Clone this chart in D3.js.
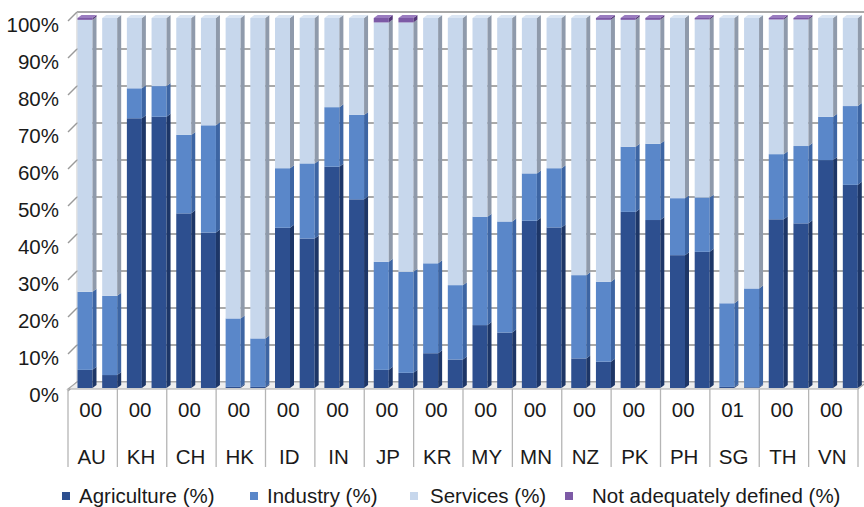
<!DOCTYPE html>
<html>
<head>
<meta charset="utf-8">
<script src="https://cdn.jsdelivr.net/npm/d3@7"></script>
<style>
  body { margin: 0; background: #fff; }
  text { font-family: "Liberation Sans", Arial, Helvetica, sans-serif; fill: #1a1a1a; }
</style>
</head>
<body>
<div id="chart"></div>
<script>
const width = 864;
const height = 507;

// categories (two bars per country)
const countries = ["AU", "KH", "CH", "HK", "ID", "IN", "JP", "KR", "MY", "MN", "NZ", "PK", "PH", "SG", "TH", "VN"];
const years = ["00", "00", "00", "00", "00", "00", "00", "00", "00", "00", "00", "00", "00", "01", "00", "00"];

// series values, one per bar (AU1, AU2, KH1, KH2, ...)
const agriculture = [4.9, 3.5, 72.9, 73.3, 47.2, 42.0, 0.3, 0.3, 43.3, 40.4, 59.8, 51.0, 4.9, 4.1, 9.4, 7.7,
  17.0, 15.0, 45.2, 43.4, 8.0, 7.1, 47.6, 45.4, 35.9, 36.8, 0.3, 0.2, 45.6, 44.5, 61.6, 54.9];
const industry = [21.1, 21.4, 8.1, 8.3, 21.2, 29.0, 18.5, 13.1, 16.1, 20.3, 16.1, 22.8, 29.2, 27.3, 24.3, 20.1,
  29.3, 30.0, 12.8, 16.0, 22.5, 21.6, 17.6, 20.6, 15.4, 14.7, 22.6, 26.7, 17.6, 20.9, 11.7, 21.3];
const services = [73.5, 75.1, 19.0, 18.4, 31.6, 29.0, 81.2, 86.6, 40.6, 39.3, 24.1, 26.2, 64.7, 67.4, 66.3, 72.2,
  53.7, 55.0, 42.0, 40.6, 69.5, 70.8, 34.3, 33.5, 48.7, 48.1, 77.1, 73.1, 36.4, 34.2, 26.7, 23.8];
const notDefined = [0.5, 0, 0, 0, 0, 0, 0, 0, 0, 0, 0, 0, 1.2, 1.2, 0, 0,
  0, 0, 0, 0, 0, 0.5, 0.5, 0.5, 0, 0.4, 0, 0, 0.4, 0.4, 0, 0];

const seriesNames = ["Agriculture (%)", "Industry (%)", "Services (%)", "Not adequately defined (%)"];
const yTicks = [0, 10, 20, 30, 40, 50, 60, 70, 80, 90, 100];

const keys = ["agri", "ind", "serv", "nad"];
const front = { agri: "#2d4f8f", ind: "#5a87c9", serv: "#c7d7ec", nad: "#7d5aa6" };
const side = { agri: "#1d3667", ind: "#3d65a3", serv: "#8f9aab", nad: "#55387a" };
const topc = { agri: "#3a5fa0", ind: "#7aa0d8", serv: "#dbe6f4", nad: "#9a7cc0" };

const rows = agriculture.map((a, i) => ({
  i, agri: a, ind: industry[i], serv: services[i], nad: notDefined[i]
}));

const svg = d3.select("#chart").append("svg")
  .attr("width", width)
  .attr("height", height);

// scales
const left = 68, right = 858;
const y = d3.scaleLinear().domain([0, 100]).range([388, 18]);
const xBar = d3.scaleBand().domain(d3.range(rows.length)).range([left, right]);
const xGroup = d3.scaleBand().domain(countries).range([left, right]);

const dx = 9, dy = -6; // depth of the back wall
const bw = 15, bd = 4;  // bar width and bar depth
const fs = "20.5px";

// back wall grid
svg.append("g")
  .selectAll("line")
  .data(yTicks)
  .join("line")
  .attr("x1", left + dx).attr("x2", width)
  .attr("y1", d => y(d) + dy).attr("y2", d => y(d) + dy)
  .attr("stroke", "#8c8c8c")
  .attr("stroke-width", 1.4);

// left wall edge
svg.append("line")
  .attr("x1", left + dx).attr("x2", left + dx)
  .attr("y1", y(100) + dy).attr("y2", y(0) + dy)
  .attr("stroke", "#c8c8c8");

// diagonal ticks + labels
const yAxis = svg.append("g");
yAxis.selectAll("line")
  .data(yTicks)
  .join("line")
  .attr("x1", left).attr("y1", d => y(d) + 3)
  .attr("x2", left + dx).attr("y2", d => y(d) + dy)
  .attr("stroke", "#9a9a9a")
  .attr("stroke-width", 1.4);
yAxis.selectAll("text")
  .data(yTicks)
  .join("text")
  .attr("x", 59)
  .attr("y", d => y(d) + 7)
  .attr("dy", "0.35em")
  .attr("text-anchor", "end")
  .style("font-size", fs)
  .text(d => d + "%");

// floor
svg.append("path")
  .attr("d", `M${left},${y(0) + 1}L${left + dx},${y(0) + dy}L${right + dx},${y(0) + dy}L${right},${y(0) + 1}Z`)
  .attr("fill", "#eeeeee")
  .attr("stroke", "#a8a8a8")
  .attr("stroke-width", 1.2);

// stacked bars with side and top faces
const stacked = d3.stack().keys(keys)(rows);
const segs = [];
stacked.forEach(s => s.forEach(d => {
  if (d[1] - d[0] > 0) segs.push({ key: s.key, i: d.data.i, y0: d[0], y1: d[1] });
}));

const bars = svg.append("g");
segs.forEach(d => {
  const x0 = xBar(d.i) + 9.5;
  const yt = y(d.y1), yb = y(d.y0);
  const g = bars.append("g");
  g.append("rect")
    .attr("x", x0).attr("y", yt)
    .attr("width", bw).attr("height", Math.max(0.6, yb - yt))
    .attr("fill", front[d.key]);
  g.append("path")
    .attr("d", `M${x0 + bw},${yt}L${x0 + bw + bd},${yt - 3}L${x0 + bw + bd},${yb - 3}L${x0 + bw},${yb}Z`)
    .attr("fill", side[d.key]);
});
// top caps
rows.forEach(r => {
  const last = keys.filter(k => r[k] > 0).pop();
  const x0 = xBar(r.i) + 9.5;
  const yt = y(100);
  bars.append("path")
    .attr("d", `M${x0},${yt}L${x0 + bd},${yt - 3}L${x0 + bw + bd},${yt - 3}L${x0 + bw},${yt}Z`)
    .attr("fill", topc[last]);
});

// category axis (two levels)
const cat = svg.append("g");
cat.selectAll("line")
  .data(d3.range(countries.length + 1))
  .join("line")
  .attr("x1", d => left + d * xGroup.bandwidth())
  .attr("x2", d => left + d * xGroup.bandwidth())
  .attr("y1", y(0) + 1).attr("y2", 467)
  .attr("stroke", "#b5b5b5")
  .attr("stroke-width", 1.3);
cat.selectAll("text.yr")
  .data(countries)
  .join("text")
  .attr("class", "yr")
  .attr("x", d => xGroup(d) + xGroup.bandwidth() / 2 - 2)
  .attr("y", 410)
  .attr("dy", "0.35em")
  .attr("text-anchor", "middle")
  .style("font-size", fs)
  .text((d, i) => years[i]);
cat.selectAll("text.ct")
  .data(countries)
  .join("text")
  .attr("class", "ct")
  .attr("x", d => xGroup(d) + xGroup.bandwidth() / 2 - 1)
  .attr("y", 457)
  .attr("dy", "0.35em")
  .attr("text-anchor", "middle")
  .style("font-size", fs)
  .text(d => d);

// legend
const legX = [62, 250, 410, 565];
const legend = svg.append("g")
  .selectAll("g")
  .data(seriesNames)
  .join("g")
  .attr("transform", (d, i) => `translate(${legX[i]},496)`);
legend.append("rect")
  .attr("x", 0).attr("y", -4)
  .attr("width", 8).attr("height", 8)
  .attr("fill", (d, i) => front[keys[i]]);
legend.append("text")
  .attr("x", (d, i) => i === 3 ? 27 : (i === 2 ? 20 : 17))
  .attr("dy", "0.35em")
  .style("font-size", fs)
  .text(d => d);
</script>
</body>
</html>
